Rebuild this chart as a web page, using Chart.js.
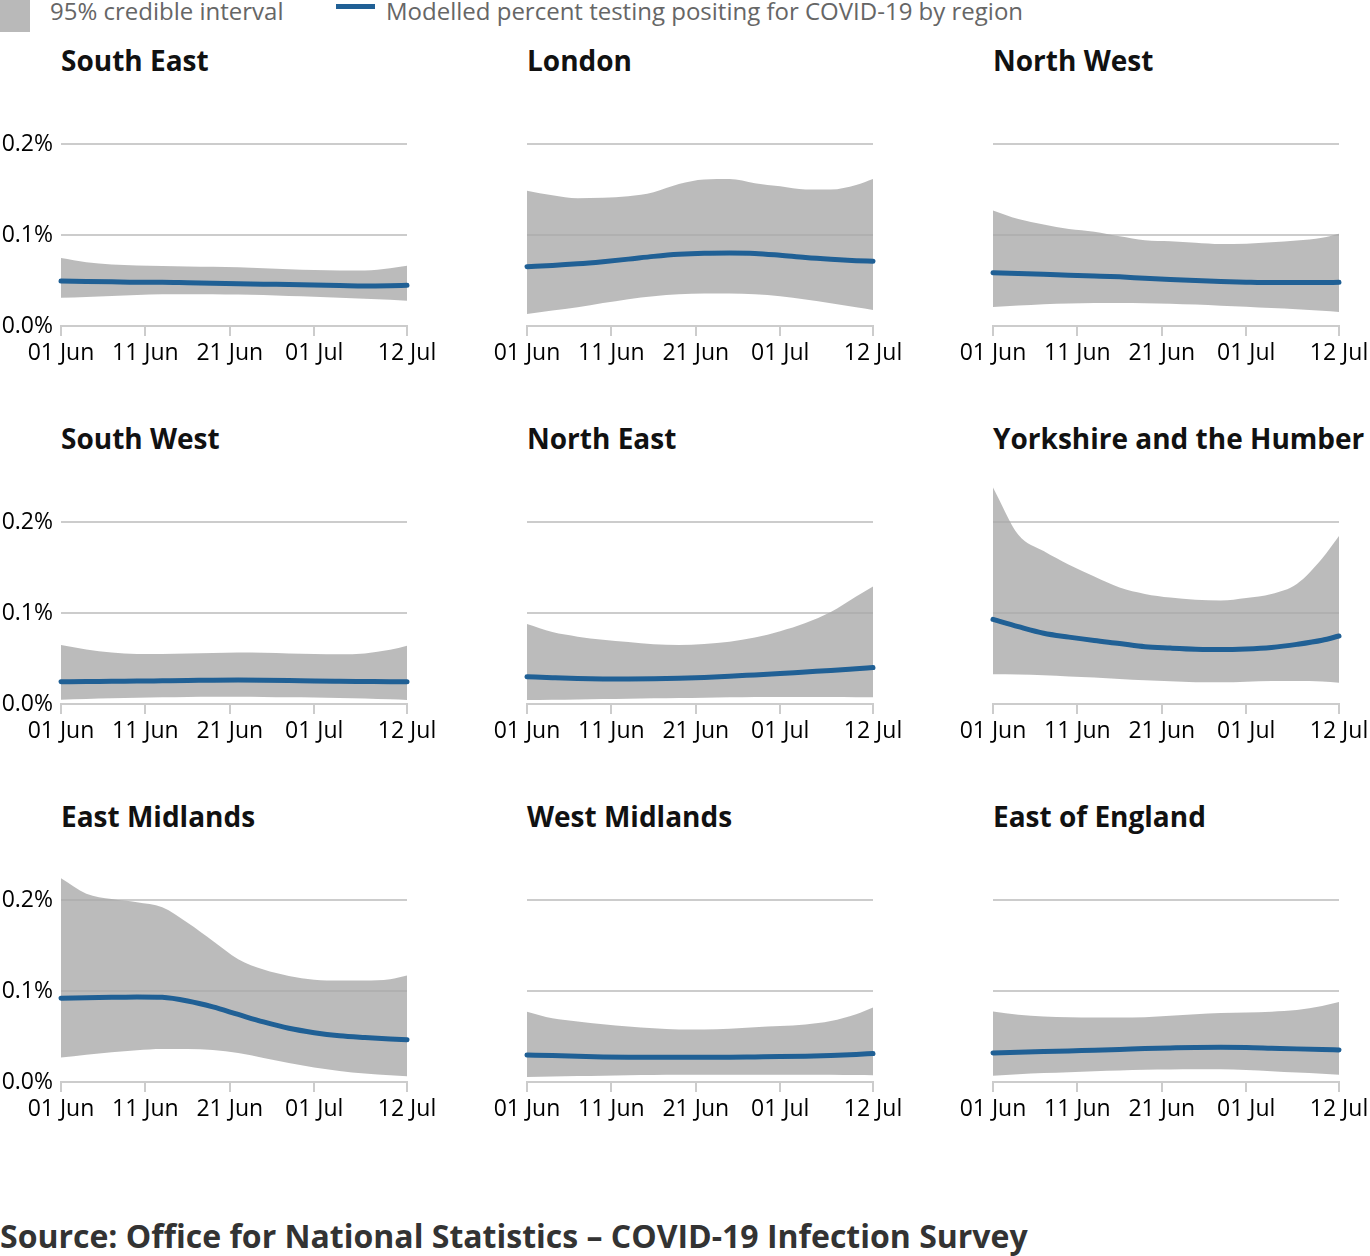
<!DOCTYPE html>
<html>
<head>
<meta charset="utf-8">
<script src="https://cdn.jsdelivr.net/npm/chart.js@4/dist/chart.umd.min.js"></script>
<style>
  html, body { margin: 0; padding: 0; background: #fff; }
  body { width: 1370px; height: 1256px; position: relative; overflow: hidden; font-family: 'Open Sans', sans-serif; }
  canvas { position: absolute; }
  .title { position: absolute; font-weight: 700; font-size: 28px; line-height: 28px; color: #111; white-space: nowrap; }
  .legtext { position: absolute; font-size: 24px; line-height: 24px; color: #666; white-space: nowrap; top: -1px; }
  .legsq { position: absolute; left: 0; top: 0; width: 30px; height: 32px; background: #b9b9b9; }
  .legline { position: absolute; left: 336px; top: 4px; width: 39px; height: 5px; background: #206095; }
  .source { position: absolute; left: 0; top: 1220px; font-weight: 700; font-size: 32px; line-height: 32px; color: #333; white-space: nowrap; }
</style>
</head>
<body>
<div class="legsq"></div>
<div class="legtext" style="left:50px">95% credible interval</div>
<div class="legline"></div>
<div class="legtext" style="left:386px">Modelled percent testing positing for COVID-19 by region</div>
<div class="source">Source: Office for National Statistics – COVID-19 Infection Survey</div>
<div id="wrap"></div>
<script>
// ---- DATA ----
const days = [0, 3, 6, 9, 12, 15, 18, 21, 24, 27, 30, 33, 36, 39, 41];
const xTickDays = [0, 10, 20, 30, 41];
const xTickLabels = ['01 Jun', '11 Jun', '21 Jun', '01 Jul', '12 Jul'];
const yTickValues = [0, 0.1, 0.2];
const yTickLabels = ['0.0%', '0.1%', '0.2%'];
const regionNames = ['South East', 'London', 'North West', 'South West', 'North East',
  'Yorkshire and the Humber', 'East Midlands', 'West Midlands', 'East of England'];

const seMid  = [0.0495, 0.049, 0.0485, 0.048, 0.048, 0.0475, 0.047, 0.0465, 0.046, 0.0455, 0.045, 0.0445, 0.044, 0.0443, 0.0447];
const seHigh = [0.0747, 0.070, 0.0675, 0.0665, 0.066, 0.0655, 0.065, 0.0645, 0.0635, 0.0625, 0.0615, 0.061, 0.061, 0.0635, 0.0663];
const seLow  = [0.031, 0.032, 0.033, 0.034, 0.035, 0.035, 0.035, 0.0345, 0.034, 0.033, 0.0322, 0.031, 0.030, 0.0288, 0.0278];

const ldMid  = [0.0652, 0.0665, 0.0683, 0.0707, 0.0735, 0.0765, 0.0788, 0.0800, 0.0803, 0.0798, 0.0777, 0.0752, 0.0733, 0.0718, 0.0711];
const ldHigh = [0.1487, 0.1437, 0.1405, 0.141, 0.1425, 0.147, 0.156, 0.161, 0.1615, 0.157, 0.1535, 0.150, 0.150, 0.155, 0.1615];
const ldLow  = [0.0132, 0.017, 0.0205, 0.0252, 0.0295, 0.0328, 0.0348, 0.0357, 0.0356, 0.0348, 0.0326, 0.0292, 0.025, 0.0205, 0.0176];

const nwMid  = [0.0586, 0.0577, 0.0568, 0.0559, 0.055, 0.054, 0.0525, 0.0512, 0.050, 0.049, 0.0482, 0.0477, 0.0477, 0.0478, 0.048];
const nwHigh = [0.127, 0.1175, 0.1115, 0.1065, 0.1035, 0.0985, 0.0942, 0.093, 0.0915, 0.090, 0.0905, 0.092, 0.094, 0.097, 0.1015];
const nwLow  = [0.0209, 0.0225, 0.024, 0.0248, 0.0252, 0.0253, 0.025, 0.0245, 0.0235, 0.0223, 0.0212, 0.0198, 0.0185, 0.0168, 0.0154];

const swMid  = [0.0245, 0.0247, 0.025, 0.0252, 0.0255, 0.0258, 0.0262, 0.0264, 0.0262, 0.0258, 0.0252, 0.0249, 0.0247, 0.0245, 0.0245];
const swHigh = [0.0648, 0.060, 0.0565, 0.055, 0.055, 0.0555, 0.056, 0.0567, 0.0563, 0.0555, 0.055, 0.0546, 0.0556, 0.0595, 0.0641];
const swLow  = [0.0048, 0.0055, 0.0062, 0.0068, 0.0073, 0.0077, 0.008, 0.008, 0.0078, 0.0075, 0.0072, 0.0066, 0.006, 0.0051, 0.0044];

const neMid  = [0.030, 0.0289, 0.028, 0.0276, 0.0275, 0.0277, 0.0282, 0.0292, 0.0305, 0.032, 0.0335, 0.0352, 0.0368, 0.0387, 0.040];
const neHigh = [0.0879, 0.079, 0.074, 0.0707, 0.068, 0.0656, 0.0648, 0.066, 0.0685, 0.073, 0.080, 0.089, 0.101, 0.118, 0.129];
const neLow  = [0.0044, 0.0047, 0.005, 0.0054, 0.0058, 0.0062, 0.0066, 0.007, 0.0073, 0.0076, 0.0077, 0.0077, 0.0076, 0.0074, 0.0073];

const ykMid  = [0.093, 0.085, 0.0778, 0.0735, 0.0697, 0.0665, 0.063, 0.0615, 0.0603, 0.0598, 0.0605, 0.0622, 0.0655, 0.070, 0.0747];
const ykHigh = [0.238, 0.186, 0.168, 0.153, 0.140, 0.128, 0.121, 0.117, 0.1145, 0.1138, 0.1165, 0.121, 0.132, 0.160, 0.1846];
const ykLow  = [0.0326, 0.0323, 0.0315, 0.0303, 0.029, 0.0275, 0.026, 0.025, 0.024, 0.0238, 0.0245, 0.0252, 0.0253, 0.0248, 0.0234];

const emMid  = [0.092, 0.0925, 0.093, 0.0935, 0.093, 0.089, 0.0825, 0.0742, 0.066, 0.059, 0.0542, 0.0508, 0.0488, 0.0472, 0.0464];
const emHigh = [0.224, 0.207, 0.201, 0.1975, 0.192, 0.175, 0.155, 0.135, 0.1235, 0.1165, 0.1125, 0.1115, 0.1115, 0.113, 0.1171];
const emLow  = [0.0269, 0.030, 0.0328, 0.035, 0.0363, 0.0362, 0.0352, 0.0318, 0.0265, 0.021, 0.016, 0.0122, 0.0093, 0.0073, 0.0063];

const wmMid  = [0.0298, 0.029, 0.0283, 0.0276, 0.0272, 0.0271, 0.0271, 0.0272, 0.0273, 0.0276, 0.0279, 0.0284, 0.0292, 0.0303, 0.0313];
const wmHigh = [0.0772, 0.070, 0.0665, 0.0635, 0.061, 0.059, 0.0578, 0.0577, 0.0585, 0.0603, 0.0615, 0.0632, 0.067, 0.0745, 0.082];
const wmLow  = [0.0055, 0.006, 0.0065, 0.007, 0.0075, 0.0078, 0.008, 0.0081, 0.0081, 0.0081, 0.0081, 0.0081, 0.0079, 0.0076, 0.0074];

const eeMid  = [0.032, 0.0326, 0.0334, 0.0342, 0.035, 0.0358, 0.0367, 0.0374, 0.038, 0.0382, 0.038, 0.0372, 0.0364, 0.0357, 0.0353];
const eeHigh = [0.0776, 0.074, 0.072, 0.0712, 0.071, 0.0708, 0.0712, 0.0728, 0.0745, 0.0757, 0.0765, 0.0772, 0.079, 0.0835, 0.0879];
const eeLow  = [0.007, 0.0085, 0.0098, 0.0108, 0.0118, 0.0126, 0.0134, 0.0137, 0.014, 0.0139, 0.0132, 0.0118, 0.0104, 0.0091, 0.0081];

const regionSeries = [
  [seMid, seLow, seHigh], [ldMid, ldLow, ldHigh], [nwMid, nwLow, nwHigh],
  [swMid, swLow, swHigh], [neMid, neLow, neHigh], [ykMid, ykLow, ykHigh],
  [emMid, emLow, emHigh], [wmMid, wmLow, wmHigh], [eeMid, eeLow, eeHigh]
];

// ---- LAYOUT / STYLE ----
Chart.defaults.font.family = "'Open Sans', sans-serif";
const COL_LEFT = [0, 466, 932];
const ROW_TOP = [88, 466, 844];
const CW = 437, CH = 290;
const BAND = 'rgba(168,168,168,0.78)';
const BLUE = '#206095';
const GRID = '#cccccc';

function pts(arr) { return arr.map((v, i) => ({ x: days[i], y: v })); }

const wrap = document.getElementById('wrap');
regionNames.forEach((name, idx) => {
  const r = Math.floor(idx / 3), c = idx % 3;
  const t = document.createElement('div');
  t.className = 'title';
  t.textContent = name;
  t.style.left = (COL_LEFT[c] + 61) + 'px';
  t.style.top = (46 + 378 * r) + 'px';
  wrap.appendChild(t);

  const cv = document.createElement('canvas');
  cv.width = CW; cv.height = CH;
  cv.style.left = COL_LEFT[c] + 'px';
  cv.style.top = ROW_TOP[r] + 'px';
  cv.style.width = CW + 'px'; cv.style.height = CH + 'px';
  wrap.appendChild(cv);

  const [mid, low, high] = regionSeries[idx];
  const showY = c === 0;
  new Chart(cv, {
    type: 'line',
    data: {
      datasets: [
        { label: 'Modelled percent testing positing for COVID-19 by region', data: pts(mid), fill: false,
          borderColor: BLUE, borderWidth: 5, borderCapStyle: 'round', pointRadius: 0,
          cubicInterpolationMode: 'monotone', clip: false },
        { label: '95% credible interval', data: pts(high), fill: '+1', backgroundColor: BAND,
          borderWidth: 0, borderColor: 'rgba(0,0,0,0)', pointRadius: 0, cubicInterpolationMode: 'monotone' },
        { label: 'lower', data: pts(low), fill: false, borderWidth: 0, borderColor: 'rgba(0,0,0,0)',
          pointRadius: 0, cubicInterpolationMode: 'monotone' }
      ]
    },
    options: {
      responsive: false,
      animation: false,
      events: [],
      layout: { padding: { top: 10.5, bottom: CH - 10.5 - 227.5 - 40, left: 0, right: 30 } },
      plugins: { legend: { display: false }, tooltip: { enabled: false }, title: { display: false } },
      scales: {
        x: {
          type: 'linear', min: 0, max: 41, offset: false,
          grid: { drawOnChartArea: false, drawTicks: true, tickLength: 10, tickWidth: 2, tickColor: GRID, color: GRID, lineWidth: 2 },
          border: { display: true, color: GRID, width: 2 },
          ticks: { autoSkip: false, maxRotation: 0, minRotation: 0, padding: 4, color: '#000',
            font: { size: 23 }, callback: (v, i) => xTickLabels[i] },
          afterBuildTicks: s => { s.ticks = xTickDays.map(v => ({ value: v })); },
          afterFit: s => { s.height = 40; s.paddingLeft = 0; s.paddingRight = 0; }
        },
        y: {
          min: 0, max: 0.25,
          grid: { color: GRID, lineWidth: 2, drawTicks: false },
          border: { display: false },
          ticks: { display: showY, padding: 8, color: '#000', font: { size: 23 },
            callback: (v, i) => yTickLabels[i] },
          afterBuildTicks: s => { s.ticks = yTickValues.map(v => ({ value: v })); },
          afterFit: s => { s.width = 61; s.paddingTop = 0; s.paddingBottom = 0; }
        }
      }
    }
  });
});
</script>
</body>
</html>
